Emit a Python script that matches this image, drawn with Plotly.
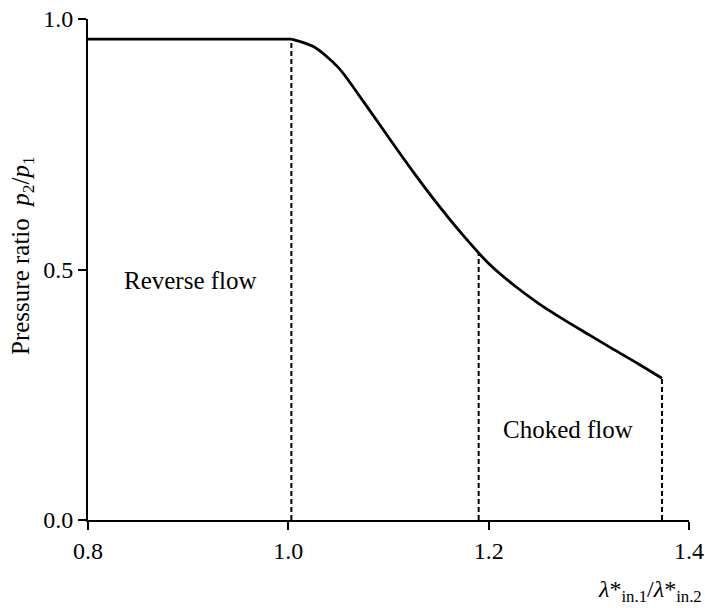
import numpy as np
import plotly.graph_objects as go

# Pressure ratio p2/p1 versus lambda ratio
lam_ratio = [0.80, 1.003, 1.025, 1.050, 1.075, 1.100, 1.125, 1.150, 1.175, 1.200,
             1.225, 1.250, 1.275, 1.300, 1.325, 1.350, 1.373]
p_ratio = [0.960, 0.960, 0.945, 0.903, 0.835, 0.764, 0.694, 0.628, 0.567, 0.512,
           0.469, 0.432, 0.400, 0.370, 0.340, 0.311, 0.283]

# Regime boundaries (dashed verticals from the axis up to the curve)
boundary_x = [1.003, 1.19, 1.373]

x_ticks = [0.8, 1.0, 1.2, 1.4]
x_tick_text = ["0.8", "1.0", "1.2", "1.4"]
y_ticks = [0.0, 0.5, 1.0]
y_tick_text = ["0.0", "0.5", "1.0"]

FONT = "Liberation Serif"

fig = go.Figure()

boundary_y = np.interp(boundary_x, lam_ratio, p_ratio)
dx, dy = [], []
for bx, by in zip(boundary_x, boundary_y):
    dx += [bx, bx, None]
    dy += [0, float(by), None]
fig.add_trace(go.Scatter(x=dx, y=dy, mode="lines",
                         line=dict(color="black", width=2, dash="5px,3px"),
                         hoverinfo="skip", showlegend=False))

# flat plateau, then the smooth falling branch
fig.add_trace(go.Scatter(x=lam_ratio[:2], y=p_ratio[:2], mode="lines",
                         line=dict(color="black", width=2.8), showlegend=False))
fig.add_trace(go.Scatter(x=lam_ratio[1:], y=p_ratio[1:], mode="lines",
                         line=dict(color="black", width=2.8, shape="spline", smoothing=0.8),
                         showlegend=False))

fig.add_annotation(x=0.902, y=0.479, text="Reverse flow", showarrow=False,
                   font=dict(family=FONT, size=25, color="black"))
fig.add_annotation(x=1.279, y=0.18, text="Choked flow", showarrow=False,
                   font=dict(family=FONT, size=25, color="black"))

fig.add_annotation(xref="paper", yref="paper", x=0, y=0.527, xshift=-65,
                   text="Pressure ratio  <i>p</i><sub>2</sub>/<i>p</i><sub>1</sub>",
                   textangle=-90, showarrow=False, xanchor="center", yanchor="middle",
                   font=dict(family=FONT, size=25, color="black"))
fig.add_annotation(xref="paper", yref="paper", x=1, y=-0.142, xshift=15,
                   text="<i>λ</i>*<sub>in.1</sub>/<i>λ</i>*<sub>in.2</sub>",
                   showarrow=False, xanchor="right", yanchor="middle",
                   font=dict(family=FONT, size=24, color="black"))

axis_common = dict(showline=True, linecolor="black", linewidth=2, ticks="outside",
                   ticklen=8, tickwidth=2, tickcolor="black", showgrid=False,
                   zeroline=False, automargin=False,
                   tickfont=dict(family=FONT, size=24, color="black"))

fig.update_xaxes(range=[0.8, 1.4], tickvals=x_ticks, ticktext=x_tick_text, **axis_common)
fig.update_yaxes(range=[0, 1.0], tickvals=y_ticks, ticktext=y_tick_text, **axis_common)

fig.update_layout(width=705, height=608, margin=dict(l=88, r=16, t=19, b=88),
                  plot_bgcolor="white", paper_bgcolor="white")

fig.write_html("out.html")
